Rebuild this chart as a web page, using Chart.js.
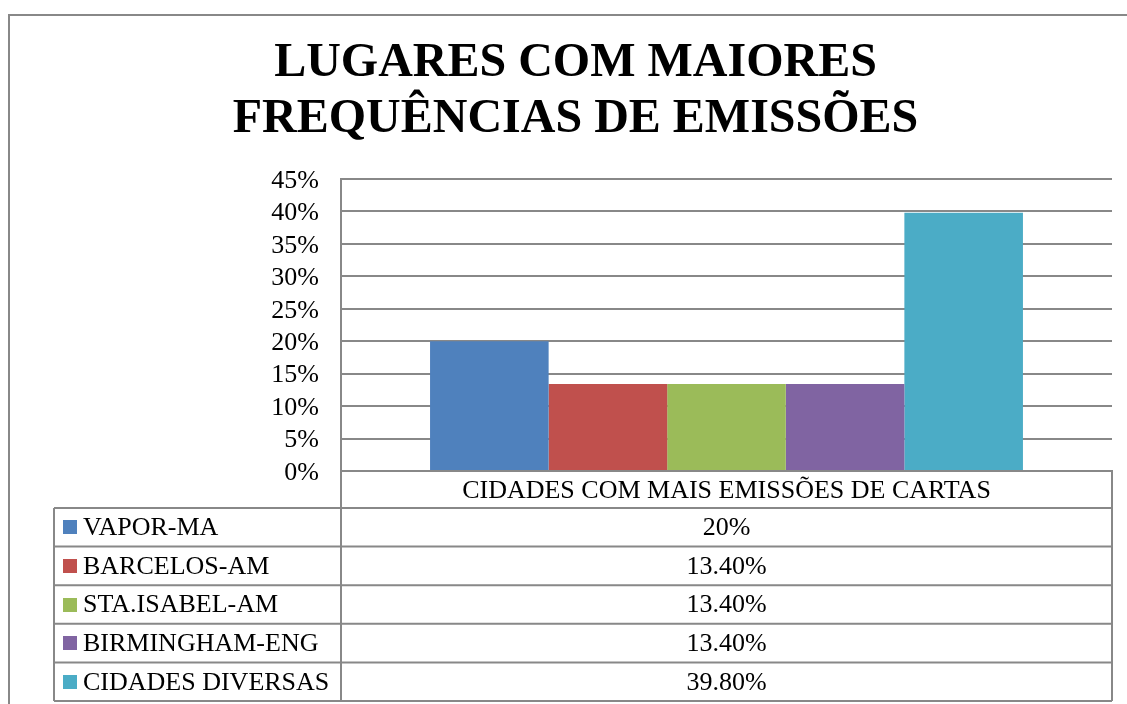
<!DOCTYPE html>
<html>
<head>
<meta charset="utf-8">
<script src="https://cdn.jsdelivr.net/npm/chart.js@4/dist/chart.umd.min.js"></script>
<style>
  html, body { margin: 0; padding: 0; background: #fff; }
  canvas { display: block; }
</style>
</head>
<body>
<canvas id="c" width="1127" height="704"></canvas>
<script>
const titleLines = ['LUGARES COM MAIORES', 'FREQUÊNCIAS DE EMISSÕES'];
const categories = ['CIDADES COM MAIS EMISSÕES DE CARTAS'];
const seriesNames = ['VAPOR-MA', 'BARCELOS-AM', 'STA.ISABEL-AM', 'BIRMINGHAM-ENG', 'CIDADES DIVERSAS'];
const seriesValues = [20, 13.4, 13.4, 13.4, 39.8];
const tableLabels = ['20%', '13.40%', '13.40%', '13.40%', '39.80%'];
const seriesColors = ['#4F81BD', '#C0504D', '#9BBB59', '#8064A2', '#4BACC6'];
const yTickLabels = ['0%', '5%', '10%', '15%', '20%', '25%', '30%', '35%', '40%', '45%'];

const SERIF = "'Liberation Serif', 'Times New Roman', serif";
const GRID = '#888888';
const TXT = 26;

const frameAndTable = {
  id: 'frameAndTable',
  beforeDraw(chart) {
    const ctx = chart.ctx;
    ctx.save();
    ctx.fillStyle = '#fff';
    ctx.fillRect(0, 0, chart.width, chart.height);
    ctx.strokeStyle = GRID;
    ctx.lineWidth = 2;
    ctx.beginPath();
    ctx.moveTo(9, chart.height);
    ctx.lineTo(9, 15);
    ctx.lineTo(chart.width, 15);
    ctx.stroke();
    ctx.restore();
  },
  afterDraw(chart) {
    const ctx = chart.ctx;
    const area = chart.chartArea;
    const xs = chart.scales.x;
    const headerBottom = xs.bottom;
    const tableBottom = 701;
    const tableLeft = 54;
    const rowH = (tableBottom - headerBottom) / seriesNames.length;
    ctx.save();
    ctx.strokeStyle = GRID;
    ctx.lineWidth = 2;
    ctx.beginPath();
    ctx.moveTo(area.left, area.bottom); ctx.lineTo(area.left, tableBottom);
    ctx.moveTo(area.right, area.bottom); ctx.lineTo(area.right, tableBottom);
    ctx.moveTo(tableLeft, headerBottom); ctx.lineTo(tableLeft, tableBottom);
    for (let i = 0; i <= seriesNames.length; i++) {
      const y = headerBottom + i * rowH;
      ctx.moveTo(tableLeft, y); ctx.lineTo(area.right, y);
    }
    ctx.stroke();
    ctx.font = TXT + 'px ' + SERIF;
    ctx.textBaseline = 'middle';
    const cx = xs.getPixelForValue(0);
    for (let i = 0; i < seriesNames.length; i++) {
      const yc = headerBottom + (i + 0.5) * rowH;
      ctx.fillStyle = seriesColors[i];
      ctx.fillRect(63, Math.round(yc - 7), 14, 14);
      ctx.fillStyle = '#000';
      ctx.textAlign = 'left';
      ctx.fillText(seriesNames[i], 83, yc + 1);
      ctx.textAlign = 'center';
      ctx.fillText(tableLabels[i], cx, yc + 1);
    }
    ctx.restore();
  }
};

new Chart(document.getElementById('c'), {
  type: 'bar',
  data: {
    labels: categories,
    datasets: seriesNames.map((n, i) => ({
      label: n,
      data: [seriesValues[i]],
      backgroundColor: seriesColors[i],
      borderWidth: 0,
      categoryPercentage: 0.769,
      barPercentage: 1
    }))
  },
  options: {
    responsive: false,
    animation: false,
    devicePixelRatio: 1,
    layout: { padding: { top: 0, left: 39, right: 15, bottom: 196 } },
    plugins: {
      legend: { display: false },
      tooltip: { enabled: false },
      title: {
        display: true,
        text: titleLines,
        color: '#000',
        font: { family: SERIF, size: 48, weight: 'bold', lineHeight: 56 / 48 },
        padding: { top: 35.5, bottom: 31.5 }
      }
    },
    scales: {
      y: {
        min: 0, max: 45,
        ticks: {
          stepSize: 5,
          autoSkip: false,
          color: '#000',
          font: { family: SERIF, size: TXT, lineHeight: 1 },
          padding: 22,
          labelOffset: 2,
          callback: (v, i) => yTickLabels[i]
        },
        grid: { color: GRID, lineWidth: 2, drawTicks: false },
        border: { display: true, color: GRID, width: 2 },
        afterFit: (s) => { s.width = 302; }
      },
      x: {
        ticks: {
          color: '#000',
          font: { family: SERIF, size: TXT },
          padding: 5
        },
        grid: { display: false, drawTicks: false },
        border: { display: true, color: GRID, width: 2 },
        afterFit: (s) => { s.height = 37; }
      }
    }
  },
  plugins: [frameAndTable]
});
</script>
</body>
</html>
